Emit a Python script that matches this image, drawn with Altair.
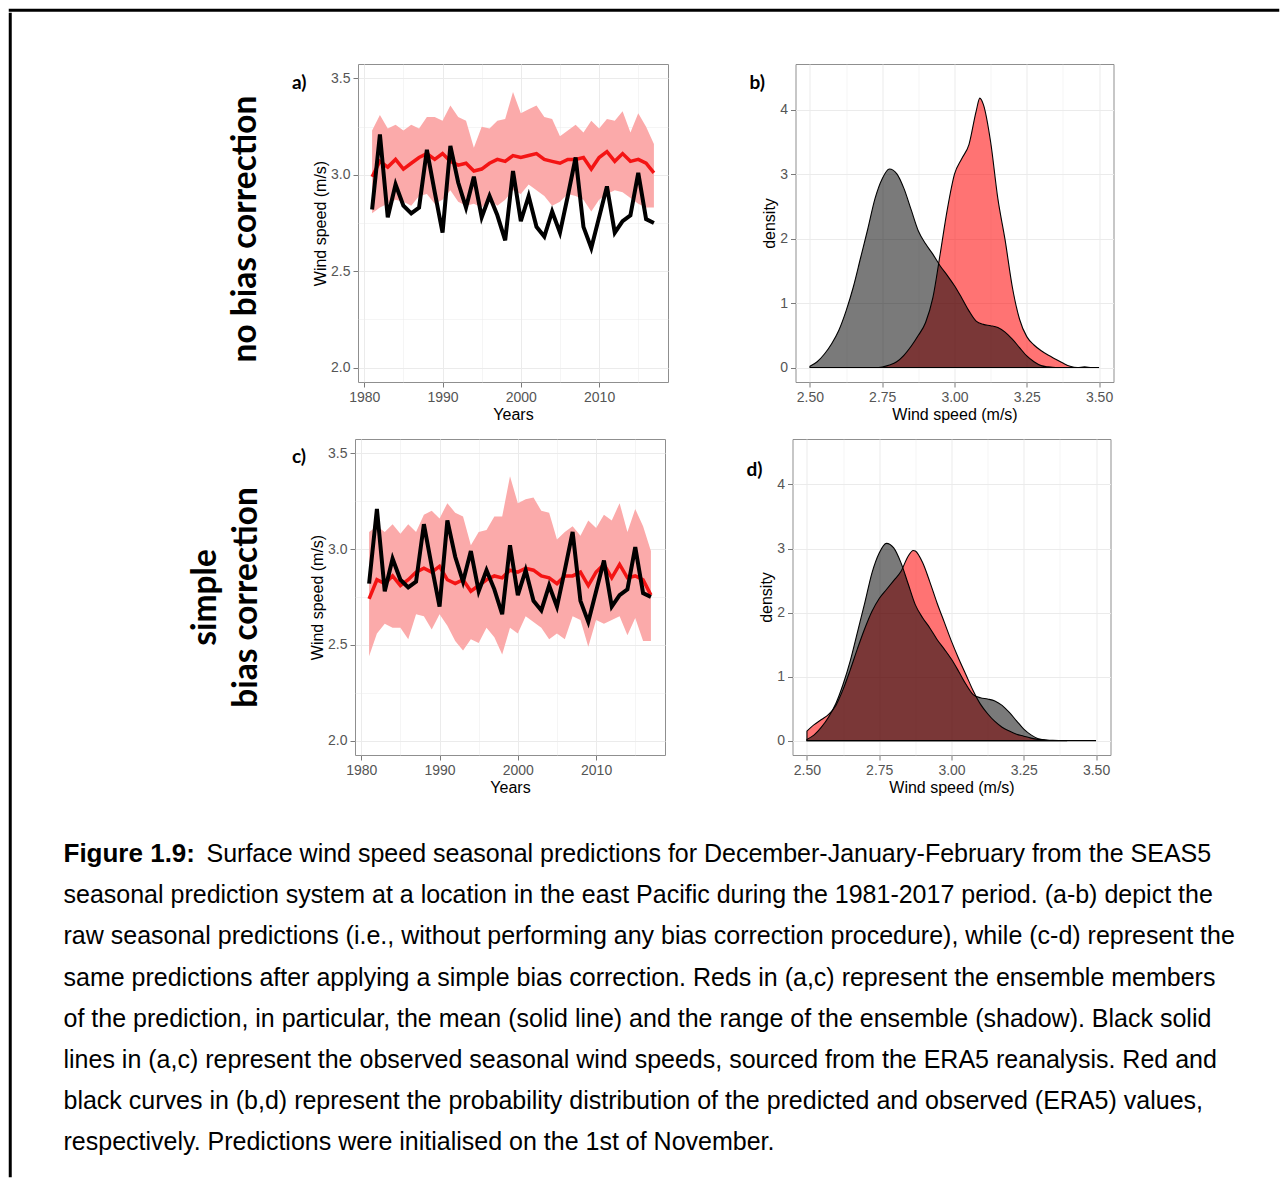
import altair as alt
import pandas as pd

# ------------------------------------------------------------------ data
years = list(range(1981, 2018))
obs_wind = [2.82, 3.21, 2.78, 2.95, 2.84, 2.80, 2.83, 3.13, 2.91, 2.70,
            3.15, 2.96, 2.83, 2.99, 2.78, 2.89, 2.79, 2.66, 3.02, 2.76,
            2.89, 2.73, 2.68, 2.81, 2.70, 2.89, 3.09, 2.73, 2.62, 2.78,
            2.94, 2.70, 2.76, 2.79, 3.01, 2.77, 2.75]
raw_mean = [2.99, 3.07, 3.04, 3.08, 3.03, 3.06, 3.09, 3.11, 3.08, 3.11,
            3.07, 3.05, 3.06, 3.02, 3.03, 3.06, 3.08, 3.07, 3.10, 3.09,
            3.10, 3.11, 3.08, 3.07, 3.06, 3.08, 3.08, 3.09, 3.03, 3.09,
            3.12, 3.07, 3.11, 3.07, 3.08, 3.06, 3.01]
raw_min = [2.80, 2.83, 2.85, 2.87, 2.86, 2.84, 2.89, 2.90, 2.85, 2.87,
           2.92, 2.86, 2.84, 2.85, 2.83, 2.87, 2.84, 2.87, 2.92, 2.90,
           2.95, 2.92, 2.89, 2.84, 2.86, 2.90, 2.89, 2.87, 2.81, 2.87,
           2.90, 2.92, 2.91, 2.88, 2.85, 2.83, 2.83]
raw_max = [3.23, 3.31, 3.24, 3.26, 3.23, 3.26, 3.24, 3.30, 3.30, 3.28,
           3.36, 3.30, 3.28, 3.14, 3.25, 3.24, 3.28, 3.29, 3.43, 3.32,
           3.34, 3.36, 3.30, 3.29, 3.20, 3.23, 3.26, 3.22, 3.28, 3.24,
           3.29, 3.28, 3.33, 3.22, 3.32, 3.25, 3.16]
bc_mean = [2.74, 2.84, 2.82, 2.86, 2.81, 2.84, 2.88, 2.90, 2.88, 2.91,
           2.84, 2.82, 2.84, 2.78, 2.81, 2.84, 2.86, 2.85, 2.89, 2.88,
           2.90, 2.89, 2.86, 2.85, 2.82, 2.86, 2.86, 2.88, 2.81, 2.88,
           2.92, 2.85, 2.92, 2.85, 2.86, 2.84, 2.76]
bc_min = [2.44, 2.56, 2.61, 2.59, 2.59, 2.53, 2.66, 2.65, 2.58, 2.66,
          2.60, 2.52, 2.47, 2.53, 2.51, 2.59, 2.54, 2.45, 2.59, 2.56,
          2.65, 2.62, 2.59, 2.53, 2.56, 2.53, 2.65, 2.63, 2.49, 2.63,
          2.61, 2.63, 2.65, 2.55, 2.64, 2.52, 2.52]
bc_max = [3.09, 3.12, 3.09, 3.13, 3.08, 3.13, 3.09, 3.18, 3.20, 3.16,
          3.24, 3.19, 3.17, 3.02, 3.09, 3.10, 3.17, 3.17, 3.38, 3.24,
          3.26, 3.27, 3.20, 3.19, 3.05, 3.09, 3.12, 3.07, 3.15, 3.11,
          3.18, 3.15, 3.24, 3.09, 3.21, 3.12, 2.99]

obs_speed = [2.500, 2.525, 2.550, 2.575, 2.600, 2.625, 2.650, 2.675, 2.700, 2.725,
             2.750, 2.775, 2.800, 2.825, 2.850, 2.875, 2.900, 2.925, 2.950, 2.975,
             3.000, 3.025, 3.050, 3.075, 3.100, 3.125, 3.150, 3.175, 3.200, 3.225,
             3.250, 3.275, 3.300, 3.325, 3.350, 3.400, 3.450, 3.500]
obs_density = [0.02, 0.09, 0.21, 0.37, 0.58, 0.88, 1.25, 1.70, 2.15, 2.62,
               2.93, 3.08, 3.01, 2.78, 2.45, 2.12, 1.92, 1.76, 1.58, 1.43,
               1.27, 1.08, 0.88, 0.72, 0.67, 0.65, 0.62, 0.55, 0.44, 0.31,
               0.18, 0.09, 0.03, 0.01, 0.0, 0.0, 0.0, 0.0]
raw_speed = [2.700, 2.725, 2.750, 2.775, 2.800, 2.825, 2.850, 2.875, 2.900, 2.925,
             2.950, 2.975, 3.000, 3.025, 3.050, 3.075, 3.0875, 3.100, 3.125, 3.150,
             3.175, 3.200, 3.225, 3.250, 3.275, 3.300, 3.325, 3.350, 3.375, 3.400,
             3.425, 3.450, 3.475, 3.500]
raw_density = [0.0, 0.0, 0.01, 0.04, 0.09, 0.19, 0.33, 0.50, 0.70, 1.08,
               1.75, 2.45, 3.00, 3.24, 3.46, 3.98, 4.18, 4.08, 3.50, 2.62,
               1.98, 1.25, 0.75, 0.48, 0.35, 0.26, 0.19, 0.13, 0.07, 0.02,
               0.0, 0.01, 0.0, 0.0]
bc_speed = [2.500, 2.525, 2.550, 2.575, 2.600, 2.625, 2.650, 2.675, 2.700, 2.725,
            2.750, 2.775, 2.800, 2.825, 2.850, 2.8675, 2.875, 2.900, 2.925, 2.950,
            2.975, 3.000, 3.025, 3.050, 3.075, 3.100, 3.125, 3.150, 3.175, 3.200,
            3.225, 3.250, 3.275, 3.300, 3.325, 3.350, 3.400]
bc_density = [0.15, 0.25, 0.33, 0.41, 0.55, 0.80, 1.11, 1.44, 1.75, 2.02,
              2.22, 2.36, 2.50, 2.64, 2.88, 2.97, 2.96, 2.78, 2.48, 2.15,
              1.85, 1.55, 1.28, 1.03, 0.78, 0.57, 0.42, 0.30, 0.21, 0.15,
              0.10, 0.07, 0.04, 0.02, 0.01, 0.005, 0.0]

year_ticks = [1980, 1985, 1990, 1995, 2000, 2005, 2010, 2015]
wind_ticks = [2.0, 2.25, 2.5, 2.75, 3.0, 3.25, 3.5]
speed_ticks = [2.5, 2.625, 2.75, 2.875, 3.0, 3.125, 3.25, 3.375, 3.5]
density_ticks = [0, 0.5, 1, 1.5, 2, 2.5, 3, 3.5, 4, 4.5]

row_labels = ["no bias correction", "simple\nbias correction"]
panel_tags = ["a)", "b)", "c)", "d)"]
caption_bold = "Figure 1.9:"
caption_lines = [
    "Surface wind speed seasonal predictions for December-January-February from the SEAS5",
    "seasonal prediction system at a location in the east Pacific during the 1981-2017 period. (a-b) depict the",
    "raw seasonal predictions (i.e., without performing any bias correction procedure), while (c-d) represent the",
    "same predictions after applying a simple bias correction. Reds in (a,c) represent the ensemble members",
    "of the prediction, in particular, the mean (solid line) and the range of the ensemble (shadow). Black solid",
    "lines in (a,c) represent the observed seasonal wind speeds, sourced from the ERA5 reanalysis. Red and",
    "black curves in (b,d) represent the probability distribution of the predicted and observed (ERA5) values,",
    "respectively. Predictions were initialised on the 1st of November.",
]

# ------------------------------------------------------------------ styling
TXT = "Liberation Sans"
TAG = "Lato"
GRID = "#ebebeb"
FRAME = "#8f8f8f"

YEAR_MAJOR = "datum.value % 10 == 0"
WIND_MAJOR = "abs(datum.value * 2 - round(datum.value * 2)) < 0.001"
SPEED_MAJOR = "abs(datum.value * 4 - round(datum.value * 4)) < 0.001"
DENS_MAJOR = "abs(datum.value - round(datum.value)) < 0.001"


def make_axis(values, title, fmt, test):
    return alt.Axis(
        values=values, title=title, format=fmt,
        labelExpr=f"({test}) ? datum.label : ''",
        tickColor={"condition": {"test": test, "value": "#7a7a7a"}, "value": "transparent"},
        gridWidth={"condition": {"test": test, "value": 1.0}, "value": 0.5},
        gridColor=GRID, domain=False, tickSize=5, tickWidth=1,
        labelFont=TXT, labelFontSize=14, labelColor="#555555", labelPadding=3,
        labelOverlap=False, labelFlush=False,
        titleFont=TXT, titleFontSize=16, titleFontWeight="normal",
        titleColor="black", titlePadding=2,
    )


def tag_title(text, dx, dy):
    return alt.TitleParams(text=text, anchor="start", frame="group", orient="top",
                           offset=0, dx=dx, dy=dy, font=TAG, fontSize=19,
                           fontWeight="bold", color="black")


def ts_panel(mean, lo, hi, w, h, tag, dx, dy):
    df = pd.DataFrame({"year": years, "obs": obs_wind, "mean": mean, "lo": lo, "hi": hi})
    xsc = alt.Scale(domain=[1979.2, 2018.8], nice=False, zero=False)
    ysc = alt.Scale(domain=[1.925, 3.575], nice=False, zero=False)
    xax = make_axis(year_ticks, "Years", "d", YEAR_MAJOR)
    yax = make_axis(wind_ticks, "Wind speed (m/s)", ".1f", WIND_MAJOR)
    base = alt.Chart(df)
    band = base.mark_area(color="#fbaaaa", opacity=1).encode(
        x=alt.X("year:Q", scale=xsc, axis=xax),
        y=alt.Y("lo:Q", scale=ysc, axis=yax), y2="hi:Q")
    mline = base.mark_line(color="#f41414", strokeWidth=3.5).encode(
        x=alt.X("year:Q", scale=xsc, axis=xax),
        y=alt.Y("mean:Q", scale=ysc, axis=yax))
    oline = base.mark_line(color="black", strokeWidth=4).encode(
        x=alt.X("year:Q", scale=xsc, axis=xax),
        y=alt.Y("obs:Q", scale=ysc, axis=yax))
    return alt.layer(band, mline, oline).properties(
        width=w, height=h, title=tag_title(tag, dx, dy),
        view=alt.ViewBackground(stroke=FRAME, strokeWidth=1))


def dens_panel(p_speed, p_dens, w, h, tag, dx, dy):
    d_obs = pd.DataFrame({"speed": obs_speed, "density": obs_density})
    d_pred = pd.DataFrame({"speed": p_speed, "density": p_dens})
    xsc = alt.Scale(domain=[2.45, 3.55], nice=False, zero=False)
    ysc = alt.Scale(domain=[-0.224, 4.71], nice=False, zero=False)
    xax = make_axis(speed_ticks, "Wind speed (m/s)", ".2f", SPEED_MAJOR)
    yax = make_axis(density_ticks, "density", "d", DENS_MAJOR)
    enc = dict(x=alt.X("speed:Q", scale=xsc, axis=xax),
               y=alt.Y("density:Q", scale=ysc, axis=yax),
               y2=alt.datum(0))
    red = alt.Chart(d_pred).mark_area(fill="#ff0000", fillOpacity=0.55, stroke="black",
                                      strokeWidth=1.1, interpolate="monotone").encode(**enc)
    grey = alt.Chart(d_obs).mark_area(fill="black", fillOpacity=0.52, stroke="black",
                                      strokeWidth=1.1, interpolate="monotone").encode(**enc)
    return alt.layer(red, grey).properties(
        width=w, height=h, title=tag_title(tag, dx, dy),
        view=alt.ViewBackground(stroke=FRAME, strokeWidth=1))


def label_chart(text, w, h, cx, cy):
    return alt.Chart(pd.DataFrame({"label": [text]})).mark_text(
        angle=270, align="center", baseline="middle", font=TAG, fontSize=33.5,
        fontWeight="bold", lineBreak="\n", lineHeight=41, color="black"
    ).encode(text="label:N", x=alt.value(cx), y=alt.value(cy)).properties(width=w, height=h)


def blank(w, h, stroke=None, sw=1):
    c = alt.Chart(pd.DataFrame({"k": [0]})).mark_point(size=0, opacity=0).encode(
        x=alt.value(0), y=alt.value(0)).properties(width=w, height=h)
    if stroke:
        c = c.properties(view=alt.ViewBackground(stroke=stroke, strokeWidth=sw))
    return c


# ------------------------------------------------------------------ panels
pa = ts_panel(raw_mean, raw_min, raw_max, 310, 318, panel_tags[0], -66, 29)
pb = dens_panel(raw_speed, raw_density, 318, 318, panel_tags[1], -46, 29)
pc = ts_panel(bc_mean, bc_min, bc_max, 310, 316, panel_tags[2], -63, 28)
pd_ = dens_panel(bc_speed, bc_density, 318, 316, panel_tags[3], -46, 41)

row1 = alt.hconcat(label_chart(row_labels[0], 229, 318, 185, 165),
                   alt.hconcat(pa, pb, spacing=79.5), spacing=0)
row2 = alt.hconcat(label_chart(row_labels[1], 229, 316, 145, 158.5),
                   alt.hconcat(pc, pd_, spacing=79.5), spacing=0)
grid = alt.vconcat(row1, row2, spacing=15)

# ------------------------------------------------------------------ caption
Y0 = 65
LH = 41.2
cap_df = pd.DataFrame({"line": list(range(len(caption_lines))), "text": caption_lines})
cap_y = alt.Y("line:Q", scale=alt.Scale(domain=[0, 7], range=[Y0, Y0 + 7 * LH]), axis=None)
cap_bold = alt.Chart(pd.DataFrame({"line": [0], "text": [caption_bold]})).mark_text(
    align="left", baseline="alphabetic", font=TXT, fontSize=26, fontWeight="bold",
    color="black").encode(x=alt.value(2.5), y=cap_y, text="text:N")
cap_first = alt.Chart(cap_df.iloc[:1]).mark_text(
    align="left", baseline="alphabetic", font=TXT, fontSize=25, color="black", dx=143
).encode(x=alt.value(2.5), y=cap_y, text="text:N")
cap_rest = alt.Chart(cap_df.iloc[1:]).mark_text(
    align="left", baseline="alphabetic", font=TXT, fontSize=25, color="black"
).encode(x=alt.value(2.5), y=cap_y, text="text:N")
caption = alt.layer(cap_bold, cap_first, cap_rest).properties(
    width=1150, height=Y0 + 7 * LH + 12)

# ------------------------------------------------------------------ assembly
body = alt.vconcat(blank(10, 48.5), grid, caption, spacing=0)
top_line = blank(1268, 0.5, "black", 2.5)
left_line = blank(0.5, 1162, "black", 2.5)

chart = alt.vconcat(
    top_line,
    alt.hconcat(left_line, body, spacing=48),
    spacing=0,
).properties(
    padding=0
).configure(font=TXT).configure_view(stroke="transparent")

chart.save("out.html", embed_options={"renderer": "svg", "actions": False})
